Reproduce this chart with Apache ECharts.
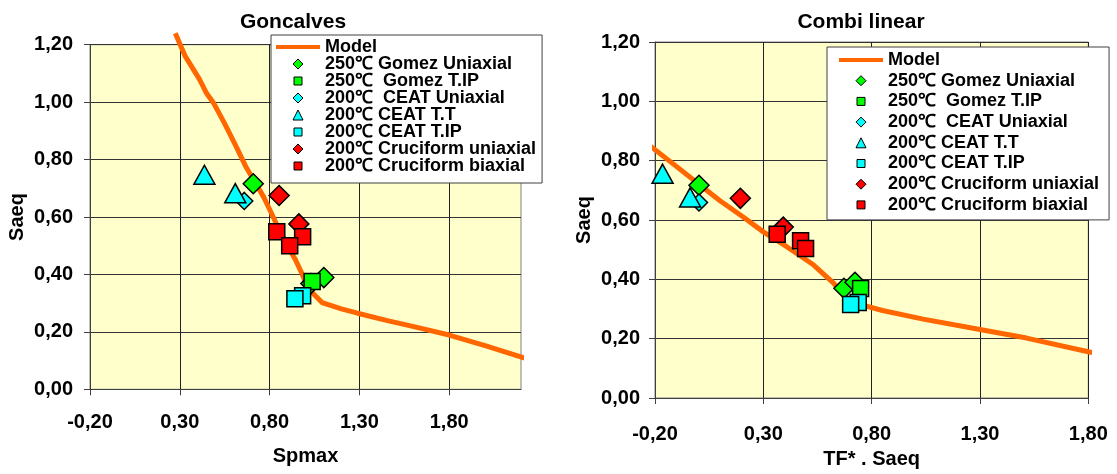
<!DOCTYPE html>
<html>
<head>
<meta charset="utf-8">
<script src="https://cdn.jsdelivr.net/npm/echarts@6/dist/echarts.min.js"></script>
<style>
  html, body { margin: 0; padding: 0; background: #ffffff; }
  #chart { width: 1117px; height: 474px; }
</style>
</head>
<body>
<div id="chart"></div>
<script>
// ---- data ----
const seriesNames = [
  'Model',
  '250\u2103 Gomez Uniaxial',
  '250\u2103  Gomez T.IP',
  '200\u2103  CEAT Uniaxial',
  '200\u2103 CEAT T.T',
  '200\u2103 CEAT T.IP',
  '200\u2103 Cruciform uniaxial',
  '200\u2103 Cruciform biaxial'
];
const chartTitles = ['Goncalves', 'Combi linear'];
const xAxisNames = ['Spmax', 'TF* . Saeq'];
const yAxisName = 'Saeq';
const xTicksLeft = [-0.2, 0.3, 0.8, 1.3, 1.8];
const xTicksRight = [-0.2, 0.3, 0.8, 1.3, 1.8];
const yTicks = [0, 0.2, 0.4, 0.6, 0.8, 1.0, 1.2];

// Goncalves panel
const modelGoncalves = [
  [0.275, 1.24], [0.33, 1.16], [0.409, 1.08], [0.45, 1.03], [0.49, 0.995],
  [0.55, 0.925], [0.61, 0.85], [0.667, 0.776], [0.72, 0.72], [0.766, 0.671],
  [0.805, 0.62], [0.845, 0.567], [0.90, 0.50], [0.944, 0.451], [0.975, 0.41],
  [1.003, 0.369], [1.04, 0.335], [1.092, 0.302], [1.20, 0.28], [1.29, 0.265],
  [1.45, 0.24], [1.591, 0.22], [1.80, 0.189], [2.0, 0.152], [2.256, 0.102]
];
const gomezUniGoncalves = [[0.709, 0.716], [1.03, 0.368], [1.102, 0.389]];
const gomezTipGoncalves = [[1.037, 0.375]];
const ceatUniGoncalves = [[0.659, 0.656]];
const ceatTtGoncalves = [[0.437, 0.747], [0.609, 0.683]];
const ceatTipGoncalves = [[0.984, 0.326], [0.941, 0.315]];
const cruUniGoncalves = [[0.853, 0.675], [0.963, 0.576]];
const cruBiGoncalves = [[0.840, 0.549], [0.984, 0.531], [0.912, 0.500]];

// Combi linear panel
const modelCombi = [
  [-0.24, 0.86], [-0.10, 0.78], [0.0, 0.722], [0.10, 0.665], [0.207, 0.61],
  [0.30, 0.56], [0.408, 0.51], [0.531, 0.449], [0.623, 0.388], [0.685, 0.338],
  [0.75, 0.315], [0.85, 0.295], [1.038, 0.266], [1.30, 0.231], [1.515, 0.202],
  [1.80, 0.156], [1.855, 0.147]
];
const gomezUniCombi = [[0.003, 0.717], [0.672, 0.37], [0.723, 0.39]];
const gomezTipCombi = [[0.749, 0.369]];
const ceatUniCombi = [[0.003, 0.659]];
const ceatTtCombi = [[-0.165, 0.756], [-0.038, 0.676]];
const ceatTipCombi = [[0.738, 0.322], [0.703, 0.315]];
const cruUniCombi = [[0.194, 0.673], [0.392, 0.576]];
const cruBiCombi = [[0.364, 0.552], [0.472, 0.530], [0.495, 0.504]];

// ---- styling ----
const FONT = '"Liberation Sans", Arial, Helvetica, sans-serif';
const ORANGE = '#ff6600';
const GREEN = '#00ff00';
const CYAN = '#00ffff';
const RED = '#ff0000';

const fmt = v => v.toFixed(2).replace('.', ',');

// Small legend glyphs, drawn inside the full 44x10 legend icon box so they keep their shape
const BOX = 'M0,0M44,10';
const ICON_DIAMOND = 'path://' + BOX + 'M17,5L22,0L27,5L22,10Z';
const ICON_SQUARE = 'path://' + BOX + 'M18,1H26V9H18Z';
const ICON_TRIANGLE = 'path://' + BOX + 'M22,0L27,10L17,10Z';

const markerStyles = [
  { symbol: 'diamond', size: 20, color: GREEN, icon: ICON_DIAMOND },
  { symbol: 'rect', size: 16, color: GREEN, icon: ICON_SQUARE },
  { symbol: 'diamond', size: 17, color: CYAN, icon: ICON_DIAMOND },
  { symbol: 'triangle', size: [21, 19], color: CYAN, icon: ICON_TRIANGLE },
  { symbol: 'rect', size: 16, color: CYAN, icon: ICON_SQUARE },
  { symbol: 'diamond', size: 20, color: RED, icon: ICON_DIAMOND },
  { symbol: 'rect', size: 16, color: RED, icon: ICON_SQUARE }
];

function panelSeries(idx, model, sets) {
  const out = [{
    name: seriesNames[0], type: 'line', xAxisIndex: idx, yAxisIndex: idx,
    data: model, symbol: 'none', smooth: false, clip: false,
    lineStyle: { color: ORANGE, width: 5 }, itemStyle: { color: ORANGE },
    z: 2
  }];
  sets.forEach((d, i) => {
    const m = markerStyles[i];
    out.push({
      name: seriesNames[i + 1], type: 'scatter', xAxisIndex: idx, yAxisIndex: idx,
      data: d, symbol: m.symbol, symbolSize: m.size, clip: false,
      itemStyle: { color: m.color, borderColor: '#000', borderWidth: 1.5, opacity: 1 },
      z: 3
    });
  });
  return out;
}

function xAxisCfg(idx, min, max, ticks, nameGap, labelMargin) {
  return {
    type: 'value', gridIndex: idx, min: min, max: max, interval: 0.5,
    name: xAxisNames[idx], nameLocation: 'middle', nameGap: nameGap,
    nameTextStyle: { fontFamily: FONT, fontSize: 20, fontWeight: 'bold', color: '#000' },
    axisLine: { show: true, onZero: false, lineStyle: { color: '#404040', width: 1 } },
    axisTick: { show: true, length: 6, customValues: ticks, lineStyle: { color: '#404040' } },
    axisLabel: {
      customValues: ticks, margin: labelMargin, formatter: fmt,
      fontFamily: FONT, fontSize: 20, fontWeight: 'bold', color: '#000'
    },
    splitLine: { show: true, lineStyle: { color: '#222', width: 1 } }
  };
}

function yAxisCfg(idx, nameGap, labelMargin) {
  return {
    type: 'value', gridIndex: idx, min: 0, max: 1.2, interval: 0.2,
    name: yAxisName, nameLocation: 'middle', nameGap: nameGap, nameRotate: 90,
    nameTextStyle: { fontFamily: FONT, fontSize: 20, fontWeight: 'bold', color: '#000' },
    axisLine: { show: true, onZero: false, lineStyle: { color: '#404040', width: 1 } },
    axisTick: { show: true, length: 6, customValues: yTicks, lineStyle: { color: '#404040' } },
    axisLabel: {
      customValues: yTicks, margin: labelMargin, formatter: fmt,
      fontFamily: FONT, fontSize: 20, fontWeight: 'bold', color: '#000'
    },
    splitLine: { show: true, lineStyle: { color: '#333', width: 1 } }
  };
}

function legendCfg(left, top, gap, padding) {
  return {
    left: left, top: top, orient: 'vertical',
    itemWidth: 44, itemHeight: 10, itemGap: gap,
    padding: padding, backgroundColor: '#ffffff',
    borderColor: '#404040', borderWidth: 1, borderRadius: 0,
    selectedMode: false, symbolKeepAspect: true,
    textStyle: { fontFamily: FONT, fontSize: 18, fontWeight: 'bold', color: '#000' },
    data: seriesNames.map((n, i) => i === 0
      ? { name: n, itemStyle: { opacity: 0 }, lineStyle: { width: 4, color: ORANGE } }
      : { name: n, icon: markerStyles[i - 1].icon,
          itemStyle: { borderWidth: 1, borderColor: '#000' } })
  };
}

const chart = echarts.init(document.getElementById('chart'), null, { renderer: 'canvas' });

chart.setOption({
  animation: false,
  backgroundColor: '#ffffff',
  title: [
    { text: chartTitles[0], left: 288, top: 7, textAlign: 'center',
      textStyle: { fontFamily: FONT, fontSize: 21, fontWeight: 'bold', color: '#000' } },
    { text: chartTitles[1], left: 856, top: 7, textAlign: 'center',
      textStyle: { fontFamily: FONT, fontSize: 21, fontWeight: 'bold', color: '#000' } }
  ],
  grid: [
    { left: 90, top: 44.7, width: 431, height: 344.6, show: true,
      backgroundColor: '#ffffcc', borderColor: '#808080', borderWidth: 1 },
    { left: 655, top: 42, width: 433.3, height: 361.5, show: true,
      backgroundColor: '#ffffcc', borderColor: '#808080', borderWidth: 1 }
  ],
  xAxis: [
    xAxisCfg(0, -0.2, 2.2, xTicksLeft, 57, 23),
    xAxisCfg(1, -0.2, 1.8, xTicksRight, 51, 26)
  ],
  yAxis: [
    yAxisCfg(0, 63, 17),
    yAxisCfg(1, 61, 15)
  ],
  legend: [
    legendCfg(271, 35, -1.0, [3, 6, 8, 3]),
    legendCfg(827, 47, 2.7, [4, 10, 6, 10])
  ],
  series: [].concat(
    panelSeries(0, modelGoncalves, [gomezUniGoncalves, gomezTipGoncalves, ceatUniGoncalves,
      ceatTtGoncalves, ceatTipGoncalves, cruUniGoncalves, cruBiGoncalves]),
    panelSeries(1, modelCombi, [gomezUniCombi, gomezTipCombi, ceatUniCombi,
      ceatTtCombi, ceatTipCombi, cruUniCombi, cruBiCombi])
  )
});
</script>
</body>
</html>
